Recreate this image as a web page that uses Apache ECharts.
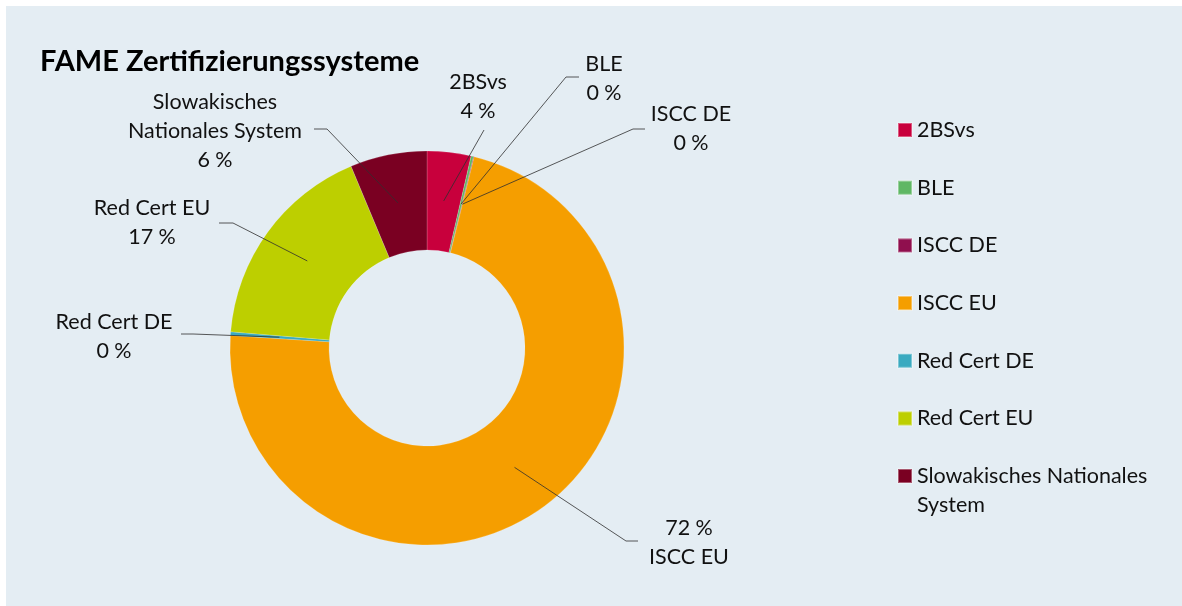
<!DOCTYPE html>
<html>
<head>
<meta charset="utf-8">
<script src="https://cdn.jsdelivr.net/npm/echarts@6/dist/echarts.min.js"></script>
<style>
  html, body { margin: 0; padding: 0; background: #ffffff; }
  #chart { width: 1182px; height: 606px; }
</style>
</head>
<body>
<div id="chart"></div>
<script>
// ---- data ----
const categories = ['2BSvs', 'BLE', 'ISCC DE', 'ISCC EU', 'Red Cert DE', 'Red Cert EU', 'Slowakisches Nationales System'];
const values = [3.6, 0.2, 0.05, 72.2, 0.3, 17.4, 6.3];
const colors = ['#C8003C', '#5FB764', '#900F4E', '#F59E00', '#3AAAC0', '#BDCF00', '#7A0022'];
const labelNames = ['2BSvs', 'BLE', 'ISCC DE', 'ISCC EU', 'Red Cert DE', 'Red Cert EU', 'Slowakisches\nNationales System'];
const title = 'FAME Zertifizierungssysteme';

// ---- layout (positions only) ----
const CX = 427, CY = 348, R0 = 98, R1 = 197, RMID = 148;
const FONT = 'Lato, "Open Sans", sans-serif';
const LABEL_SIZE = 21.5;
const labelPos = [
  { x: 478, y: 97,  line: [[484, 130], [484, 130]] },
  { x: 604, y: 78.5, line: [[566, 77], [579, 77]] },
  { x: 691, y: 129, line: [[633, 129], [645, 129]] },
  { x: 689, y: 542.5, line: [[626, 541], [638, 541]] },
  { x: 114, y: 336.5, line: [[193, 334], [181, 334]] },
  { x: 152, y: 222.5, line: [[233, 223], [219, 223]] },
  { x: 215, y: 131, line: [[327, 129], [314, 129]] }
];

const total = values.reduce((a, b) => a + b, 0);
function midAnchor(i) {
  let before = 0;
  for (let k = 0; k < i; k++) before += values[k];
  const ang = (before + values[i] / 2) / total * 2 * Math.PI;
  return [CX + RMID * Math.sin(ang), CY - RMID * Math.cos(ang)];
}

const pieData = categories.map((name, i) => ({
  name: name, value: values[i], itemStyle: { color: colors[i] }
}));
const labelData = categories.map((name, i) => ({ name: name, value: values[i] }));

const chart = echarts.init(document.getElementById('chart'), null, { renderer: 'canvas' });
chart.setOption({
  animation: false,
  backgroundColor: '#ffffff',
  graphic: [{
    type: 'rect', left: 6, top: 6, z: -10, silent: true,
    shape: { width: 1176, height: 600 },
    style: { fill: '#E4EDF3' }
  }],
  title: {
    text: title, left: 40, top: 47, padding: 0,
    textStyle: { fontFamily: FONT, fontSize: 29, fontWeight: 'bold', color: '#000000' }
  },
  legend: [{
    data: categories.slice(0, 6),
    orient: 'vertical', left: 897, top: 115.5, padding: 0,
    itemWidth: 14, itemHeight: 14, itemGap: 28.7, icon: 'rect',
    selectedMode: false,
    textStyle: { fontFamily: FONT, fontSize: LABEL_SIZE, color: '#111111', lineHeight: 29 }
  }, {
    data: categories.slice(6),
    orient: 'vertical', left: 897, top: 432.5, padding: 0,
    itemWidth: 14, itemHeight: 14, icon: 'rect',
    selectedMode: false,
    formatter: function (n) { return '\nSlowakisches Nationales\nSystem'; },
    textStyle: { fontFamily: FONT, fontSize: LABEL_SIZE, color: '#111111', lineHeight: 29 }
  }],
  series: [{
    type: 'pie',
    z: 2,
    center: [CX, CY],
    radius: [R0, R1],
    startAngle: 90,
    clockwise: true,
    silent: true,
    label: { show: false },
    labelLine: { show: false },
    itemStyle: { borderWidth: 0.5, borderColor: 'rgba(255,255,255,0.35)' },
    emphasis: { disabled: true },
    data: pieData
  }, {
    type: 'pie',
    z: 5,
    center: [CX, CY],
    radius: [0, RMID],
    startAngle: 90,
    clockwise: true,
    silent: true,
    avoidLabelOverlap: false,
    itemStyle: { color: 'rgba(0,0,0,0)' },
    emphasis: { disabled: true },
    label: {
      show: true,
      position: 'outside',
      fontFamily: FONT, fontSize: LABEL_SIZE, lineHeight: 29, color: '#111111',
      align: 'center',
      formatter: function (p) {
        const pct = Math.round(p.value / total * 100) + ' %';
        if (p.dataIndex === 3) return pct + '\n' + labelNames[p.dataIndex];
        return labelNames[p.dataIndex] + '\n' + pct;
      }
    },
    labelLine: { show: true, length: 10, length2: 10, lineStyle: { color: '#2e2e2e', width: 0.8 } },
    labelLayout: function (p) {
      const lp = labelPos[p.dataIndex];
      const a = midAnchor(p.dataIndex);
      return {
        x: lp.x, y: lp.y, align: 'center', verticalAlign: 'middle',
        labelLinePoints: [a, lp.line[0], lp.line[1]]
      };
    },
    data: labelData
  }]
});
</script>
</body>
</html>
